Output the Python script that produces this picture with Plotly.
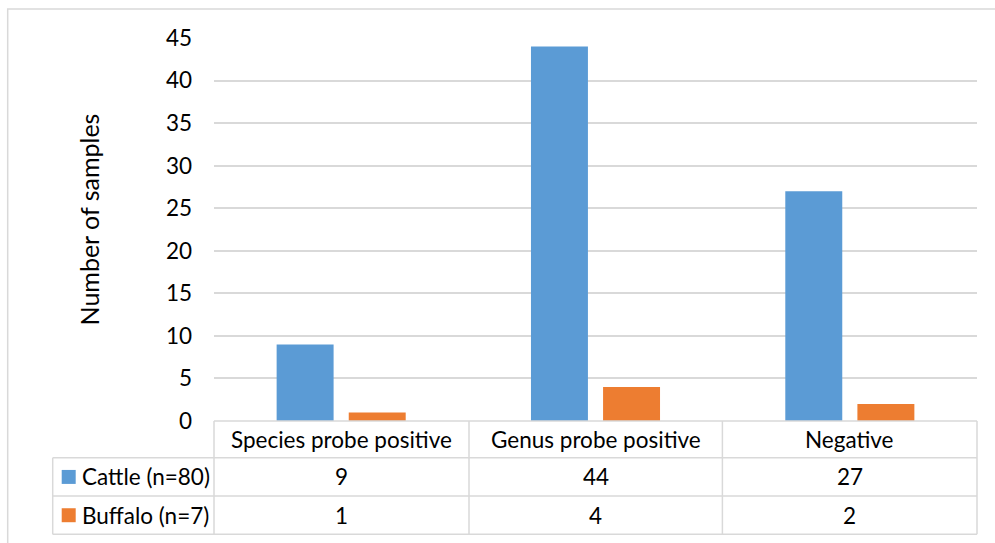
import plotly.graph_objects as go

categories = ["Species probe positive", "Genus probe positive", "Negative"]
cattle = [9, 44, 27]
buffalo = [1, 4, 2]
series_names = ["Cattle (n=80)", "Buffalo (n=7)"]
y_ticks = [0, 5, 10, 15, 20, 25, 30, 35, 40, 45]

W, H = 995, 543
L, R, T, B = 214.3, 977.3, 38.0, 421.5
FONT = "Lato, Carlito, Calibri, sans-serif"
FS = 22.5
TITLE_FS = 25
GRID = "#D9D9D9"
BLUE = "#5B9BD5"
ORANGE = "#ED7D31"


def px(x):
    return (x - L) / (R - L)


def py(y):
    return (B - y) / (B - T)


fig = go.Figure()
fig.add_trace(go.Bar(x=categories, y=cattle, name=series_names[0],
                     marker=dict(color=BLUE, line=dict(width=0))))
fig.add_trace(go.Bar(x=categories, y=buffalo, name=series_names[1],
                     marker=dict(color=ORANGE, line=dict(width=0))))

shapes = []
# outer chart border
shapes.append(dict(type="rect", xref="paper", yref="paper",
                   x0=px(8), x1=px(1010), y0=py(9), y1=py(560),
                   line=dict(color=GRID, width=1.5), layer="below"))

row_lines = [421.5, 458.3, 496.7, 535.0]
col_lines = [214.3, 469.3, 722.7, 977.3]
left_x = 53.0
# horizontal table lines
shapes.append(dict(type="line", xref="paper", yref="paper",
                   x0=px(col_lines[0]), x1=px(col_lines[-1]),
                   y0=py(row_lines[0]), y1=py(row_lines[0]),
                   line=dict(color=GRID, width=1.5)))
for r in row_lines[1:]:
    shapes.append(dict(type="line", xref="paper", yref="paper",
                       x0=px(left_x), x1=px(col_lines[-1]), y0=py(r), y1=py(r),
                       line=dict(color=GRID, width=1.5)))
# vertical table lines
for c in col_lines:
    shapes.append(dict(type="line", xref="paper", yref="paper",
                       x0=px(c), x1=px(c), y0=py(row_lines[0]), y1=py(row_lines[-1]),
                       line=dict(color=GRID, width=1.5)))
shapes.append(dict(type="line", xref="paper", yref="paper",
                   x0=px(left_x), x1=px(left_x), y0=py(row_lines[1]), y1=py(row_lines[-1]),
                   line=dict(color=GRID, width=1.5)))

annotations = []
col_centers = [(col_lines[i] + col_lines[i + 1]) / 2 for i in range(3)]
row_centers = [(row_lines[i] + row_lines[i + 1]) / 2 for i in range(3)]
for i, cat in enumerate(categories):
    annotations.append(dict(x=px(col_centers[i]), y=py(row_centers[0]), xref="paper", yref="paper",
                            text=cat, showarrow=False, xanchor="center", yanchor="middle",
                            font=dict(family=FONT, size=FS, color="#000000")))
for j, (vals, name, col) in enumerate([(cattle, series_names[0], BLUE),
                                      (buffalo, series_names[1], ORANGE)]):
    rc = row_centers[j + 1]
    for i, v in enumerate(vals):
        annotations.append(dict(x=px(col_centers[i]), y=py(rc), xref="paper", yref="paper",
                                text=str(v), showarrow=False, xanchor="center", yanchor="middle",
                                font=dict(family=FONT, size=FS, color="#000000")))
    shapes.append(dict(type="rect", xref="paper", yref="paper",
                       x0=px(62), x1=px(76), y0=py(rc + 7), y1=py(rc - 7),
                       fillcolor=col, line=dict(width=0)))
    annotations.append(dict(x=px(80), y=py(rc), xref="paper", yref="paper",
                            text=name, showarrow=False, xanchor="left", yanchor="middle",
                            font=dict(family=FONT, size=FS, color="#000000")))

annotations.append(dict(x=px(89), y=py(220), xref="paper", yref="paper",
                        text="Number of samples", textangle=-90, showarrow=False,
                        xanchor="center", yanchor="middle",
                        font=dict(family=FONT, size=TITLE_FS, color="#000000")))

fig.update_layout(
    width=W, height=H,
    margin=dict(l=L, r=W - R, t=T, b=H - B, pad=0),
    paper_bgcolor="white", plot_bgcolor="white",
    showlegend=False,
    barmode="group", bargap=0.433, bargroupgap=0.21,
    font=dict(family=FONT, size=FS, color="#000000"),
    xaxis=dict(showticklabels=False, showgrid=False, zeroline=False, showline=False),
    yaxis=dict(range=[0, 45], tickvals=y_ticks, showgrid=True, gridcolor=GRID, gridwidth=1.5,
               zeroline=False, showline=False, ticks="", ticklabelstandoff=21,
               tickfont=dict(family=FONT, size=FS, color="#000000")),
    shapes=shapes, annotations=annotations,
)

fig.write_html("out.html")
